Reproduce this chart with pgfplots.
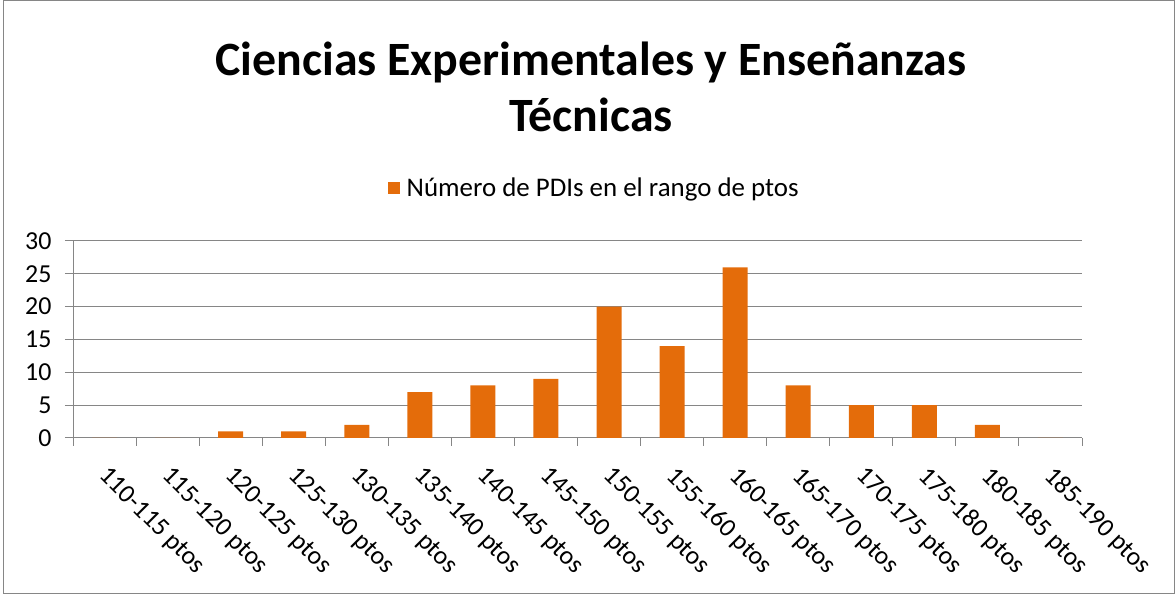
\documentclass[border=0pt]{standalone}
\usepackage{pgfplots}
\pgfplotsset{compat=1.18}
\usepackage{fontspec}
\setmainfont{Carlito}
\definecolor{barorange}{HTML}{E46C0A}
\definecolor{gridgray}{HTML}{868686}
\begin{document}
\begin{tikzpicture}[x=1bp,y=1bp]
\begin{axis}[
  at={(0,0)}, anchor=south west,
  scale only axis, width=1009bp, height=197bp,
  xmin=-0.5, xmax=15.5, ymin=0, ymax=30,
  ytick={0,5,...,30},
  xtick={0,...,15},
  xticklabels={110-115 ptos,115-120 ptos,120-125 ptos,125-130 ptos,130-135 ptos,135-140 ptos,140-145 ptos,145-150 ptos,150-155 ptos,155-160 ptos,160-165 ptos,165-170 ptos,170-175 ptos,175-180 ptos,180-185 ptos,185-190 ptos},
  minor xtick={-0.5,0.5,...,15.5},
  major x tick style={draw=none},
  minor x tick style={draw=gridgray, line width=1pt},
  y tick style={draw=gridgray, line width=1pt},
  tick align=outside,
  major tick length=8bp, minor tick length=8bp,
  axis lines*=left,
  axis line style={draw=gridgray, line width=1pt, -},
  ymajorgrids, grid style={draw=gridgray, line width=1pt},
  /pgf/number format/assume math mode=true,
  tick label style={font=\fontsize{26}{30}\selectfont},
  xticklabel style={rotate=-45, anchor=north west, inner sep=0pt, xshift=17bp, yshift=-9bp},
  yticklabel style={xshift=-10bp},
  ybar, bar width=25bp, bar shift=0pt,
  legend style={at={(0.519,1.269)}, anchor=center, draw=none, fill=none,
    font=\fontsize{27}{30}\selectfont, inner sep=0pt},
  legend image code/.code={\fill[barorange] (0bp,-6bp) rectangle (12bp,6bp);},
  legend cell align=left,
  legend style={/tikz/every odd column/.append style={column sep=0pt}, /tikz/nodes={inner xsep=7bp}},
]
\addplot[fill=barorange, draw=none] coordinates {
(0,0) (1,0) (2,1) (3,1) (4,2) (5,7) (6,8) (7,9) (8,20) (9,14) (10,26) (11,8) (12,5) (13,5) (14,2) (15,0)};
\addlegendentry{Número de PDIs en el rango de ptos}
\end{axis}
\node[align=center, font=\fontsize{48}{56}\selectfont\bfseries] at (518,351) {Ciencias Experimentales y Enseñanzas\\Técnicas};
\draw[gridgray, line width=1pt] (-70,-156) rectangle (1101.5,437);
\pgfresetboundingbox
\useasboundingbox (-73,-157) rectangle (1103,438);
\end{tikzpicture}
\end{document}
